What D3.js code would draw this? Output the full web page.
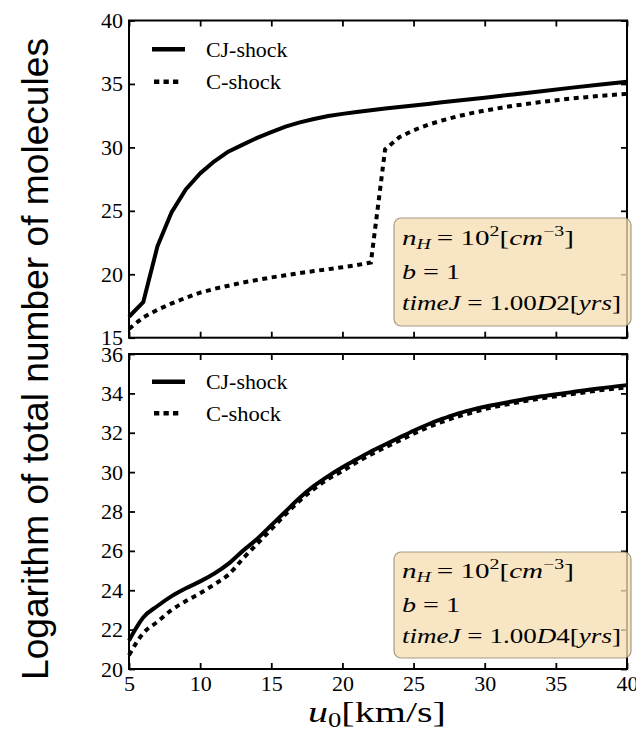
<!DOCTYPE html>
<html><head><meta charset="utf-8">
<script src="https://cdn.jsdelivr.net/npm/d3@7"></script>
<style>body{margin:0;background:#fff}svg{display:block}</style>
</head><body>
<svg id="chart" width="636" height="729"></svg>
<script>
// ---- data ----
const u0 = [5,6,7,8,9,10,11,12,13,14,15,16,17,18,19,20,21,22,23,24,25,26,27,28,29,30,32,34,36,38,40];
const cjTop = [16.65,17.8,22.2,24.9,26.7,27.95,28.9,29.68,30.22,30.75,31.2,31.63,31.97,32.24,32.47,32.64,32.79,32.93,33.06,33.18,33.3,33.42,33.55,33.68,33.8,33.92,34.17,34.43,34.69,34.93,35.17];
const cTop  = [15.7,16.6,17.2,17.7,18.15,18.55,18.85,19.1,19.35,19.55,19.75,19.92,20.1,20.25,20.4,20.55,20.72,20.92,29.85,30.8,31.35,31.78,32.12,32.42,32.68,32.9,33.28,33.58,33.84,34.05,34.22];
const cjBottom = [21.45,22.62,23.2,23.7,24.1,24.45,24.85,25.35,26.0,26.6,27.3,28.0,28.7,29.3,29.8,30.25,30.65,31.05,31.4,31.75,32.1,32.42,32.7,32.95,33.15,33.32,33.6,33.85,34.05,34.25,34.42];
const cBottom  = [20.7,21.82,22.4,23.0,23.45,23.85,24.3,24.8,25.6,26.35,27.1,27.85,28.55,29.15,29.65,30.05,30.5,30.9,31.25,31.6,31.95,32.28,32.55,32.8,33.0,33.2,33.5,33.75,33.95,34.15,34.3];
const xTicks = [5,10,15,20,25,30,35,40];
const yTicksTop = [15,20,25,30,35,40];
const yTicksBottom = [20,22,24,26,28,30,32,34,36];
const seriesNames = ["CJ-shock","C-shock"];
const timeTop = "1.00D2";
const timeBottom = "1.00D4";
const yTitle = "Logarithm of total number of molecules";

// ---- layout ----
const svg = d3.select("#chart");
const L = 129, R = 627;
const serif = "'Liberation Serif','DejaVu Serif',serif";
const x = d3.scaleLinear().domain([5,40]).range([L,R]);

const panels = [
  {top:20.5, bottom:337.7, domain:[15,40], ticks:yTicksTop, cj:cjTop, c:cTop, time:timeTop, curve:d3.curveLinear,
   legY:[49.3,81.7], box:{x:394,y:218,w:237,h:108}, noteY:[245,279,310], xlabels:false},
  {top:354, bottom:669, domain:[20,36], ticks:yTicksBottom, cj:cjBottom, c:cBottom, time:timeBottom, curve:d3.curveMonotoneX,
   legY:[381.7,413.3], box:{x:394,y:552,w:237,h:106}, noteY:[578,612,643], xlabels:true}
];

function fitWidth(sel, target){
  const bb = sel.node().getBBox();
  const s = target / bb.width;
  const x0 = bb.x;
  sel.attr("transform", `translate(${x0},0) scale(${s},1) translate(${-x0},0)`);
}

panels.forEach(p => {
  const y = d3.scaleLinear().domain(p.domain).range([p.bottom, p.top]);
  const g = svg.append("g");

  const ax = (gen, tr) => {
    const a = g.append("g").attr("transform", tr).call(gen);
    a.select(".domain").remove();
    a.attr("font-family", serif).attr("font-size", 22);
    a.selectAll(".tick line").attr("stroke","#000").attr("stroke-width",1.8);
    a.selectAll(".tick text").attr("font-family",serif).attr("font-size",22).attr("fill","#000");
    return a;
  };
  ax(d3.axisLeft(y).tickValues(p.ticks).tickSize(-6).tickPadding(6).tickFormat(d3.format("d")), `translate(${L},0)`);
  ax(d3.axisRight(y).tickValues(p.ticks).tickSize(-6).tickFormat(""), `translate(${R},0)`);
  ax(d3.axisTop(x).tickValues(xTicks).tickSize(-6).tickFormat(""), `translate(0,${p.top})`);
  const bx = ax(d3.axisBottom(x).tickValues(xTicks).tickSize(-6).tickPadding(4)
      .tickFormat(p.xlabels ? d3.format("d") : ""), `translate(0,${p.bottom})`);
  if (p.xlabels) bx.selectAll(".tick text").attr("dy","0.8em");

  g.append("rect").attr("x",L).attr("y",p.top).attr("width",R-L).attr("height",p.bottom-p.top)
    .attr("fill","none").attr("stroke","#000").attr("stroke-width",2);

  const line = vals => d3.line().curve(p.curve).x((d,i)=>x(u0[i])).y(d=>y(d))(vals);
  g.append("path").attr("d", line(p.cj)).attr("fill","none").attr("stroke","#000")
    .attr("stroke-width",4).attr("stroke-linejoin","round");
  g.append("path").attr("d", line(p.c)).attr("fill","none").attr("stroke","#000")
    .attr("stroke-width",4).attr("stroke-dasharray","5,4.6");

  // legend
  g.append("line").attr("x1",152).attr("x2",185).attr("y1",p.legY[0]).attr("y2",p.legY[0])
    .attr("stroke","#000").attr("stroke-width",4.5);
  g.append("line").attr("x1",154).attr("x2",180).attr("y1",p.legY[1]).attr("y2",p.legY[1])
    .attr("stroke","#000").attr("stroke-width",4.5).attr("stroke-dasharray","5.3,4.2");
  const lt1 = g.append("text").attr("x",206).attr("y",p.legY[0]+7.4).attr("font-family",serif)
    .attr("font-size",21).text(seriesNames[0]);
  fitWidth(lt1, 82);
  const lt2 = g.append("text").attr("x",206).attr("y",p.legY[1]+7.4).attr("font-family",serif)
    .attr("font-size",21).text(seriesNames[1]);
  fitWidth(lt2, 75.7);

  // annotation box
  g.append("rect").attr("x",p.box.x).attr("y",p.box.y).attr("width",p.box.w).attr("height",p.box.h)
    .attr("rx",7).attr("fill","#f5deb3").attr("fill-opacity",0.78)
    .attr("stroke","#8f8472").attr("stroke-width",1.2).attr("stroke-opacity",0.8);

  const tx = 402;
  const t1 = g.append("text").attr("x",tx).attr("y",p.noteY[0]).attr("font-family",serif).attr("font-size",22);
  t1.append("tspan").attr("font-style","italic").text("n");
  t1.append("tspan").attr("font-style","italic").attr("font-size",15).attr("dy",4).text("H");
  t1.append("tspan").attr("dy",-4).text("\u2009= 10");
  t1.append("tspan").attr("font-size",15).attr("dy",-9).text("2");
  t1.append("tspan").attr("dy",9).text("[");
  t1.append("tspan").attr("font-style","italic").text("cm");
  t1.append("tspan").attr("font-size",15).attr("dy",-9).text("\u22123");
  t1.append("tspan").attr("dy",9).text("]");
  fitWidth(t1, 172);

  const t2 = g.append("text").attr("x",tx).attr("y",p.noteY[1]).attr("font-family",serif).attr("font-size",22);
  t2.append("tspan").attr("font-style","italic").text("b");
  t2.append("tspan").text(" = 1");
  fitWidth(t2, 58);

  const t3 = g.append("text").attr("x",tx).attr("y",p.noteY[2]).attr("font-family",serif).attr("font-size",22);
  t3.append("tspan").attr("font-style","italic").text("timeJ");
  t3.append("tspan").text(" = " + p.time.slice(0,4));
  t3.append("tspan").attr("font-style","italic").text(p.time.slice(4,5));
  t3.append("tspan").text(p.time.slice(5) + "[");
  t3.append("tspan").attr("font-style","italic").text("yrs");
  t3.append("tspan").text("]");
  fitWidth(t3, 219);
});

// x-axis title
const xt = svg.append("text").attr("x",308).attr("y",722).attr("font-family",serif).attr("font-size",30);
xt.append("tspan").attr("font-style","italic").text("u");
xt.append("tspan").attr("font-size",20).attr("dy",5).text("0");
xt.append("tspan").attr("dy",-5).text("[km/s]");
fitWidth(xt, 138);

// y-axis title
svg.append("text").attr("transform","translate(48,359) rotate(-90)")
  .attr("text-anchor","middle").attr("font-family","'Liberation Sans',Arial,sans-serif")
  .attr("font-size",37).attr("textLength",642).attr("lengthAdjust","spacingAndGlyphs").text(yTitle);
</script>
</body></html>
